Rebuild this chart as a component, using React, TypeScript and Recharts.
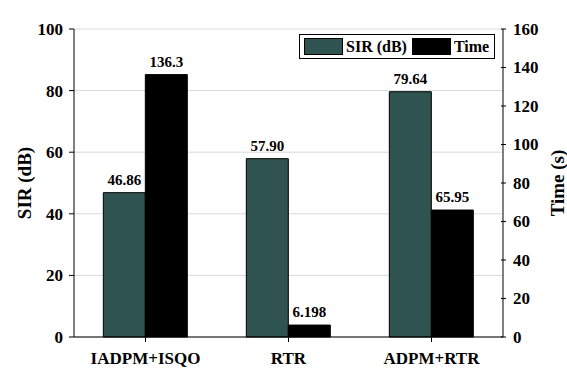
import React from 'react';
import { BarChart, Bar, XAxis, YAxis, CartesianGrid, Legend, LabelList, Label } from 'recharts';

const categories = ['IADPM+ISQO', 'RTR', 'ADPM+RTR'];
const sirValues = [46.86, 57.9, 79.64];
const sirLabels = ['46.86', '57.90', '79.64'];
const timeValues = [136.3, 6.198, 65.95];
const timeLabels = ['136.3', '6.198', '65.95'];
const leftTicks = [0, 20, 40, 60, 80, 100];
const rightTicks = [0, 20, 40, 60, 80, 100, 120, 140, 160];
const boundaryTicks = [1, 2];

const data = categories.map((c, i) => ({
  name: c,
  sir: sirValues[i],
  sirLabel: sirLabels[i],
  time: timeValues[i],
  timeLabel: timeLabels[i],
}));

const FONT = "'Times New Roman', 'Liberation Serif', Times, serif";
const SIR_COLOR = '#2F5350';

const tickStyle = { fontFamily: FONT, fontWeight: 'bold', fontSize: 17, fill: '#000' };

const LegendContent = () => (
  <div
    style={{
      border: '1px solid #000',
      background: '#fff',
      display: 'flex',
      alignItems: 'center',
      padding: '3px 4px',
      fontFamily: FONT,
      fontWeight: 'bold',
      fontSize: 16,
      color: '#000',
      width: 186,
      height: 17,
      boxSizing: 'content-box',
      whiteSpace: 'nowrap',
    }}
  >
    <span style={{ display: 'inline-block', width: 37, height: 15, background: SIR_COLOR, border: '1px solid #000', marginRight: 3 }} />
    <span style={{ marginRight: 5 }}>SIR (dB)</span>
    <span style={{ display: 'inline-block', width: 37, height: 15, background: '#000', border: '1px solid #000', marginRight: 3 }} />
    <span>Time</span>
  </div>
);

const AxisTitle = ({ viewBox, value, dxFromLeft }: any) => {
  const cx = viewBox.x + dxFromLeft;
  const cy = viewBox.y + viewBox.height / 2;
  return (
    <text
      x={cx}
      y={cy}
      transform={`rotate(-90, ${cx}, ${cy})`}
      textAnchor="middle"
      dominantBaseline="central"
      style={{ fontFamily: FONT, fontWeight: 'bold', fontSize: 19, fill: '#000' }}
    >
      {value}
    </text>
  );
};

// Right axis tick: short tick mark crossing the axis line, then the label
const RightTick = ({ x, y, payload }: any) => (
  <g>
    <line x1={x - 12} x2={x - 7} y1={y} y2={y} stroke="#000" />
    <text x={x} y={y} dy="0.35em" textAnchor="start" style={tickStyle}>
      {payload.value}
    </text>
  </g>
);

export default function App() {
  return (
    <div style={{ position: 'absolute', left: 0, top: 0, background: '#fff' }}>
      <BarChart
        width={567}
        height={378}
        data={data}
        margin={{ top: 29, right: 0, bottom: 0, left: 0 }}
        barCategoryGap="20.5%"
        barGap={0}
      >
        <CartesianGrid horizontal vertical={false} stroke="#d9d9d9" xAxisId="cat" yAxisId="left" />
        <XAxis
          xAxisId="b"
          type="number"
          domain={[0, 3]}
          ticks={boundaryTicks}
          tick={false}
          tickSize={5}
          axisLine={false}
          tickLine={{ stroke: '#000' }}
          height={0}
        />
        <XAxis
          xAxisId="cat"
          dataKey="name"
          tick={tickStyle}
          tickSize={5}
          tickMargin={10}
          axisLine={{ stroke: '#000' }}
          tickLine={{ stroke: '#000' }}
          height={41}
        />
        <YAxis
          yAxisId="left"
          orientation="left"
          domain={[0, 100]}
          ticks={leftTicks}
          width={74}
          tick={tickStyle}
          tickSize={5}
          tickMargin={6}
          axisLine={{ stroke: '#000' }}
          tickLine={{ stroke: '#000' }}
        >
          <Label content={(p: any) => <AxisTitle {...p} value="SIR (dB)" dxFromLeft={24} />} />
        </YAxis>
        <YAxis
          yAxisId="right"
          orientation="right"
          domain={[0, 160]}
          ticks={rightTicks}
          width={64}
          tick={<RightTick />}
          tickSize={4}
          tickMargin={6}
          axisLine={{ stroke: '#000' }}
          tickLine={false}
        >
          <Label content={(p: any) => <AxisTitle {...p} value="Time (s)" dxFromLeft={54} />} />
        </YAxis>
        <Legend
          verticalAlign="middle"
          align="center"
          layout="horizontal"
          content={<LegendContent />}
          wrapperStyle={{ position: 'absolute', top: 34, left: 299, width: 'auto', height: 'auto' }}
        />
        <Bar dataKey="sir" name="SIR (dB)" xAxisId="cat" yAxisId="left" fill={SIR_COLOR} stroke="#000" strokeWidth={1} isAnimationActive={false}>
          <LabelList dataKey="sirLabel" position="top" offset={8} style={{ fontFamily: FONT, fontWeight: 'bold', fontSize: 15, fill: '#000' }} />
        </Bar>
        <Bar dataKey="time" name="Time" xAxisId="cat" yAxisId="right" fill="#000" stroke="#000" strokeWidth={1} isAnimationActive={false}>
          <LabelList dataKey="timeLabel" position="top" offset={8} style={{ fontFamily: FONT, fontWeight: 'bold', fontSize: 15, fill: '#000' }} />
        </Bar>
      </BarChart>
    </div>
  );
}
